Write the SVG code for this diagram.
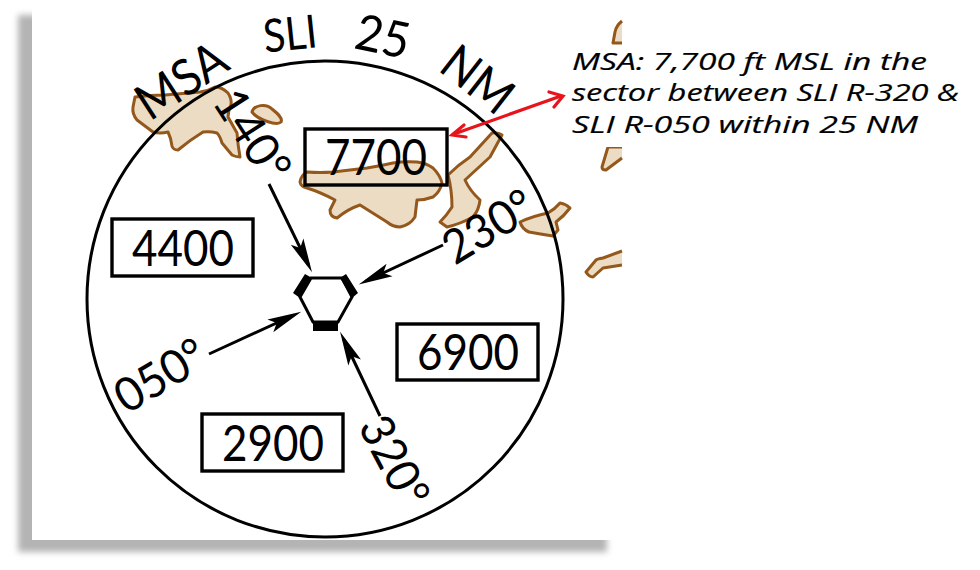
<svg xmlns="http://www.w3.org/2000/svg" width="980" height="570" viewBox="0 0 980 570">
<style>
.land{fill:#ecdcc4;stroke:#94581c;stroke-width:3;stroke-linejoin:round}
.box{fill:none;stroke:#000;stroke-width:3.4}
.t{font-family:Lato,"Liberation Sans",sans-serif;fill:#000;text-anchor:middle;font-size:50px}
.lbl{font-size:47px}
.note{font-family:"Open Sans","DejaVu Sans",sans-serif;font-style:italic;font-size:24px;fill:#000;stroke:#000;stroke-width:.2}
.conn{stroke:#000;stroke-width:3;fill:none;marker-end:url(#barb)}
.red{stroke:#e8141c;stroke-width:3.2;fill:none}
</style>
<defs>
<filter id="blur" x="-5%" y="-5%" width="110%" height="110%"><feGaussianBlur stdDeviation="3"/></filter>
<marker id="barb" markerUnits="userSpaceOnUse" markerWidth="38" markerHeight="20" refX="28" refY="10" orient="auto"><path d="M2,3 L36,10 L2,17 L9,10 Z" fill="#000"/></marker>
</defs>
<rect width="980" height="570" fill="#fff"/>
<rect x="18" y="15" width="589" height="537" fill="#b4b4b4" filter="url(#blur)"/>
<rect x="32" y="0" width="590" height="540" fill="#fff"/>
<g id="terrain">
<path class="land" d="M135,97 Q150,95 165,95 L200,92 Q208,91 215,87 Q222,87 228,93 Q232,99 231,105 Q228,111 228,117 L237,133 Q238,146 240,157 Q236,157 232,155 L222,143 Q220,136 217,133 Q210,131 203,132 Q190,140 178,150 Q173,150 172,146 Q171,138 168,132 Q160,134 153,132 L137,120 Q132,114 133,107 Z"/>
<path class="land" d="M252,112 C254,105 266,103 272,109 C277,113 283,118 281,122 C277,126 258,120 252,112 Z"/>
<path class="land" d="M307,172 Q320,173 333,172 L367,168 Q380,166 393,163 Q405,161 417,162 Q426,163 433,168 Q440,175 442,183 Q440,192 433,197 Q425,200 417,200 Q416,208 415,217 Q410,225 400,227 Q393,227 387,222 L360,205 Q348,209 337,218 Q330,217 330,210 L335,200 Q320,192 307,188 Q301,187 300,182 Q301,175 307,172 Z"/>
<path class="land" d="M492,133 Q498,132 502,135 L490,157 Q478,168 465,180 Q470,191 480,200 Q479,210 473,217 Q460,224 447,227 L440,222 Q447,215 452,207 Q452,190 448,175 Q458,165 470,157 Z"/>
<path class="land" d="M520,222 Q533,216 548,213 Q555,209 560,203 Q566,204 570,208 Q564,216 556,222 L558,230 L553,236 Q540,234 529,232 Q522,229 520,222 Z"/>
<path class="land" d="M622,251 L603,258 Q597,259 596,260 L586,272 Q589,277 593,277 L603,268 L622,265"/>
<path class="land" d="M622,21 Q616,26 615,32 L613,43 L622,43"/>
<path class="land" d="M622,158 L606,170 Q602,170 602,167 L608,147 L622,147"/>
<rect x="606" y="140" width="18" height="7" fill="#fff"/>
</g>
<circle id="msa-ring" cx="325" cy="299" r="238" fill="none" stroke="#000" stroke-width="3"/>
<g id="title">
<text class="t" font-size="52" textLength="98" lengthAdjust="spacingAndGlyphs" transform="translate(181,80) rotate(-33) translate(0,18)">MSA</text>
<text class="t" style="font-size:46px" textLength="54" lengthAdjust="spacingAndGlyphs" transform="translate(290,33) rotate(-6) translate(0,17)">SLI</text>
<text class="t" textLength="54" lengthAdjust="spacingAndGlyphs" transform="translate(383,36) rotate(12) translate(0,18)">25</text>
<text class="t" textLength="76" lengthAdjust="spacingAndGlyphs" transform="translate(478,79) rotate(38) translate(0,18)">NM</text>
</g>
<g id="sector-7700"><rect class="box" x="305" y="129" width="142" height="56"/><text class="t" x="376" y="175" textLength="102" lengthAdjust="spacingAndGlyphs">7700</text></g>
<g id="sector-4400"><rect class="box" x="112" y="219" width="141" height="57"/><text class="t" x="183" y="266" textLength="102" lengthAdjust="spacingAndGlyphs">4400</text></g>
<g id="sector-6900"><rect class="box" x="397" y="324" width="141" height="56"/><text class="t" x="468" y="370" textLength="102" lengthAdjust="spacingAndGlyphs">6900</text></g>
<g id="sector-2900"><rect class="box" x="202" y="414" width="141" height="57"/><text class="t" x="273" y="461" textLength="102" lengthAdjust="spacingAndGlyphs">2900</text></g>
<g id="radials">
<text class="t lbl" textLength="100" lengthAdjust="spacingAndGlyphs" transform="translate(253,135) rotate(57) translate(0,17)">140°</text>
<text class="t lbl" textLength="98" lengthAdjust="spacingAndGlyphs" transform="translate(488,226) rotate(-31) translate(0,17)">230°</text>
<text class="t lbl" textLength="98" lengthAdjust="spacingAndGlyphs" transform="translate(160,375) rotate(-31) translate(0,17)">050°</text>
<text class="t lbl" textLength="96" lengthAdjust="spacingAndGlyphs" transform="translate(395,461) rotate(62) translate(0,17)">320°</text>
</g>
<g id="navaid">
<path d="M311,278 H342 L352,297 L338,322 H313 L300,297 Z" fill="#fff" stroke="#000" stroke-width="3"/>
<path d="M305,274 L312,278 L300,298 L293,293 Z M346,274 L358,293 L352,298 L340,278 Z M313,322 H338 V331 H313 Z" fill="#000"/>
</g>
<g id="connectors">
<path class="conn" d="M269,184 L308.5,265"/>
<path class="conn" d="M443,245 L366,281"/>
<path class="conn" d="M209,354 L294,315"/>
<path class="conn" d="M380,416 L343.5,339"/>
<path class="red" d="M454,134 L561,96"/>
<path class="red" stroke-linecap="round" d="M464,125 L452,135 L466,137 M549,92 L563,96 L554,107"/>
</g>
<g id="note">
<text class="note" x="572" y="70" textLength="355" lengthAdjust="spacingAndGlyphs">MSA: 7,700 ft MSL in the</text>
<text class="note" x="572" y="101" textLength="387" lengthAdjust="spacingAndGlyphs">sector between SLI R-320 &amp;</text>
<text class="note" x="572" y="133" textLength="346" lengthAdjust="spacingAndGlyphs">SLI R-050 within 25 NM</text>
</g>
</svg>
